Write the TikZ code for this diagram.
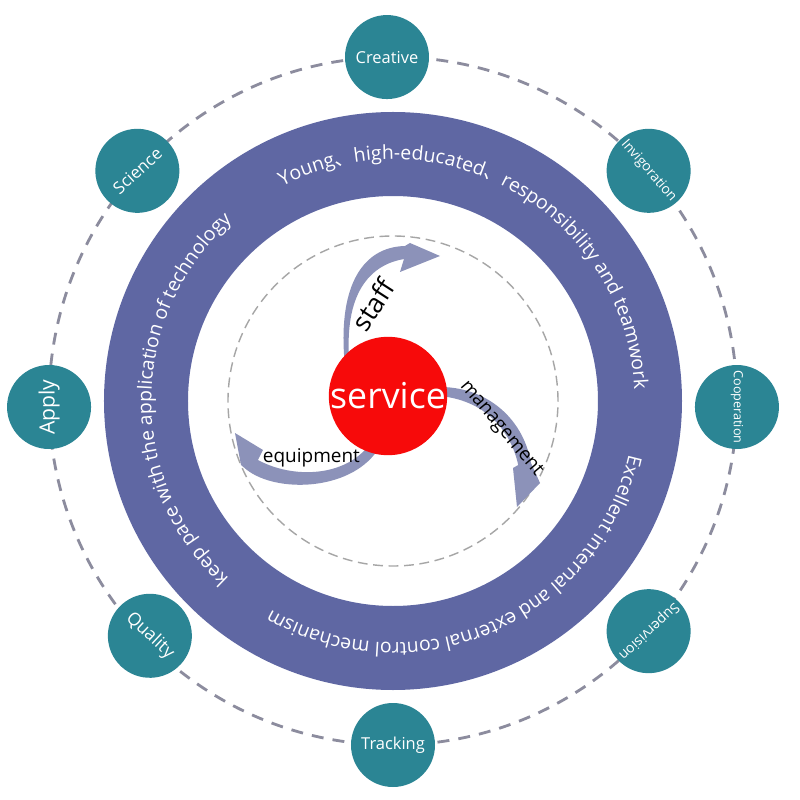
\documentclass[tikz,border=0pt]{standalone}
\usepackage{fontspec}
\setmainfont{Open Sans}
\newfontfamily\cjk{Noto Sans CJK SC}
\usetikzlibrary{decorations.text}
\definecolor{skillteal}{HTML}{2B8594}
\definecolor{ringblue}{HTML}{5F67A3}
\definecolor{dashgray}{HTML}{8C8C9E}
\definecolor{arrowblue}{HTML}{8C92B9}
\definecolor{servicered}{HTML}{F70A0A}
\newcommand{\ringtext}{\fontsize{13.8}{16}\selectfont\color{white}}
\newcommand{\ringcjk}{\cjk\fontsize{13.8}{16}\selectfont\color{white}}
\tikzset{
  skill/.style={circle, fill=skillteal, text=white, minimum size=2.1cm, inner sep=0pt},
  flowarrow/.style={fill=arrowblue},
  flowlabel/.style={font=\fontsize{13.5}{16}\selectfont, text=black, inner sep=1pt}
}
\begin{document}
\begin{tikzpicture}
	\fill[white] (-9.825,-9.975) rectangle (10.175,10.025);
	\useasboundingbox (-9.825,-9.975) rectangle (10.175,10.025);
	% outer dashed ring
	\draw[dashgray, line width=2pt, dash pattern=on 8.5pt off 6.5pt] (0,0) circle (8.6);
	% purple ring and its texts
	\draw[ringblue, line width=2.1cm] (0,0) circle (6.175);
	\path[decorate, decoration={text along path, text align=center,
		text={|\ringtext|Young|\ringcjk|、|\ringtext|high-educated|\ringcjk|、|\ringtext|responsibility and teamwork}}]
		(150:6.04) arc[start angle=150, end angle=-30, radius=6.04];
	\path[decorate, decoration={text along path, text align=center,
		text={|\ringtext|Excellent internal and external control mechanism}}]
		(13.5:6.04) arc[start angle=13.5, end angle=-146.5, radius=6.04];
	\path[decorate, decoration={text along path, text align=center,
		text={|\ringtext|keep pace with the application of technology}}]
		(259.5:6.04) arc[start angle=259.5, end angle=99.5, radius=6.04];
	% inner dashed circle
	\draw[gray!70, line width=1pt, dash pattern=on 7pt off 4pt] (0,0) circle (4.125);
	% three arrows
	\fill[flowarrow] (-1.22,1.1) .. controls (-1.35,2.9) and (-0.75,3.85) .. (0.3,3.875) -- (0.425,3.95) -- (1.175,3.625) -- (0.175,3.225) -- (0.275,3.55) .. controls (-0.5,3.42) and (-1.2,2.8) .. (-1.1,1.1) -- cycle;
	\fill[flowarrow] (1.1,0.35) .. controls (2.3,0.38) and (3.25,-0.4) .. (3.45,-1.55) -- (3.675,-2.05) -- (3.1,-2.65) -- (3.0,-1.675) -- (3.13,-1.6) .. controls (2.95,-0.75) and (2.3,0.05) .. (1.1,0.13) -- cycle;
	\fill[flowarrow] (-0.4,-1.25) .. controls (-1.1,-2.25) and (-2.9,-2.3) .. (-3.65,-1.725) -- (-3.8,-1.6) -- (-3.95,-0.8) -- (-3.25,-1.225) -- (-3.375,-1.475) .. controls (-2.5,-1.95) and (-1.2,-1.9) .. (-0.6,-1.1) -- cycle;
	% centre
	\node[circle, fill=servicered, minimum size=2.95cm, inner sep=0pt, text=white, font=\fontsize{25.4}{30}\selectfont] (service) at (-0.125,0.125) {service};
	\node[flowlabel, rotate=57, font=\fontsize{19}{22}\selectfont] (staff) at (-0.5,2.4) {staff};
	\node[flowlabel, rotate=-50] (management) at (2.7,-0.7) {management};
	\node[flowlabel] (equipment) at (-2.04,-1.425) {equipment};
	% circles on the dashed ring
	\node[skill, font=\fontsize{11.7}{14}\selectfont] (creative) at (91:8.6) {Creative};
	\node[skill, font=\fontsize{9.8}{12}\selectfont, rotate=-49] (invigoration) at (42:8.6) {Invigoration};
	\node[skill, font=\fontsize{9}{11}\selectfont, rotate=-90] (cooperation) at (-1:8.6) {Cooperation};
	\node[skill, font=\fontsize{10}{12}\selectfont, rotate=-137] (supervision) at (-42:8.6) {Supervision};
	\node[skill, font=\fontsize{11.7}{14}\selectfont] (tracking) at (-90:8.6) {Tracking};
	\node[skill, font=\fontsize{12.6}{15}\selectfont, rotate=-43] (quality) at (-136:8.45) {Quality};
	\node[skill, font=\fontsize{15}{18}\selectfont, rotate=90] (apply) at (181:8.6) {Apply};
	\node[skill, font=\fontsize{12}{14}\selectfont, rotate=42] (science) at (138:8.6) {Science};
\end{tikzpicture}
\end{document}
